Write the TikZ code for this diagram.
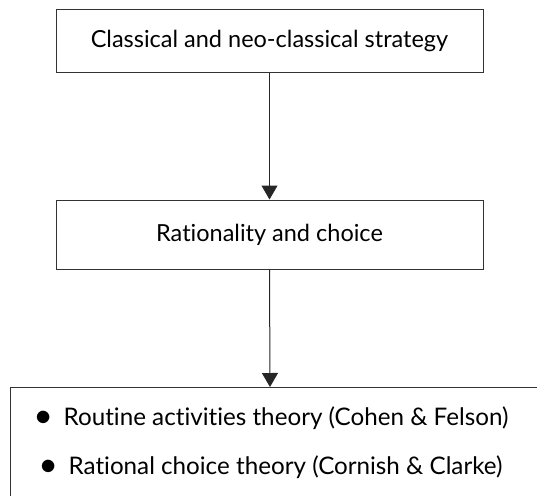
\documentclass[tikz,border=0pt]{standalone}
\usepackage{fontspec}
\setmainfont[Ligatures={NoCommon}]{Lato}
\usetikzlibrary{arrows.meta}
\begin{document}
\begin{tikzpicture}[x=1pt,y=-1pt,
  txt/.style={font=\fontsize{23.5}{28}\selectfont},
  listtxt/.style={font=\fontsize{24.2}{28}\selectfont},
  boxstyle/.style={txt, draw=black!80, line width=1pt, minimum height=62pt, minimum width=427pt, inner sep=0pt},
  conn/.style={draw=black!85, line width=1pt, -{Triangle[length=14pt,width=16pt]}}]
\useasboundingbox (0,0) rectangle (537,495);
\clip (0,0) rectangle (537,495);
\node[boxstyle] (b1) at (269.5,41) {Classical and neo-classical strategy};
\node[boxstyle, minimum height=69pt] (b2) at (269.5,234.5) {Rationality and choice};
\draw[draw=black!80, line width=1pt] (10,387) rectangle (560,520);
\coordinate (b3top) at (270,387);
\node[listtxt, anchor=center] (l1) at (272,418) {\scalebox{1.3}{$\bullet$}\hspace{12pt}Routine activities theory (Cohen \& Felson)};
\node[listtxt, anchor=center] (l2) at (271.5,467) {\scalebox{1.3}{$\bullet$}\hspace{12pt}Rational choice theory (Cornish \& Clarke)};
\draw[conn] (b1.south) -- (b2.north);
\draw[conn] (b2.south) -- (b3top);
\end{tikzpicture}
\end{document}
